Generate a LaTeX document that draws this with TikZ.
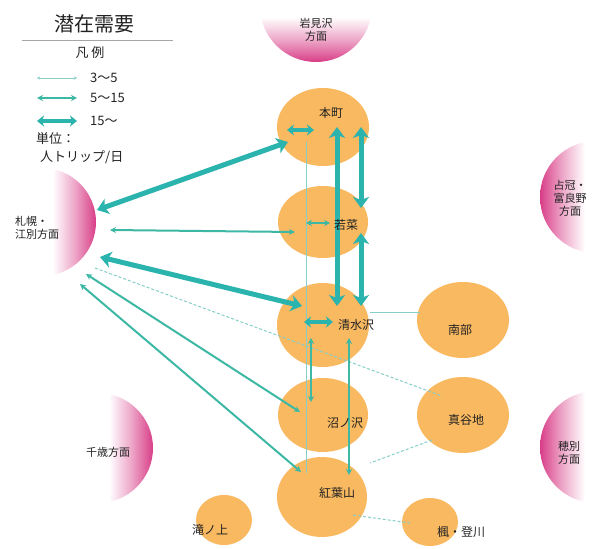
\documentclass[tikz,border=0pt]{standalone}
\usepackage{fontspec}
\setmainfont{Noto Sans CJK JP}
\usetikzlibrary{shapes.geometric,arrows.meta}
\definecolor{zone}{HTML}{F9B960}
\definecolor{regpink}{HTML}{D83C86}
\definecolor{tealA}{HTML}{2BB3AE}
\definecolor{tealB}{HTML}{3DB8A4}
\definecolor{tealC}{HTML}{86CEC8}
\definecolor{ink}{HTML}{222222}
\colorlet{pinkmid}{regpink!45!white}
\colorlet{pinkhi}{regpink!85!white}
\pgfdeclarehorizontalshading{fadeR}{100bp}{color(0bp)=(white); color(25bp)=(white); color(35bp)=(white); color(55bp)=(pinkmid); color(70bp)=(pinkhi); color(75bp)=(regpink); color(100bp)=(regpink)}
\pgfdeclarehorizontalshading{fadeL}{100bp}{color(0bp)=(regpink); color(25bp)=(regpink); color(30bp)=(pinkhi); color(45bp)=(pinkmid); color(65bp)=(white); color(75bp)=(white); color(100bp)=(white)}
\pgfdeclareverticalshading{fadeD}{100bp}{color(0bp)=(regpink); color(25bp)=(regpink); color(30bp)=(pinkhi); color(45bp)=(pinkmid); color(65bp)=(white); color(75bp)=(white); color(100bp)=(white)}
\tikzset{
  zonebox/.style={ellipse, fill=zone, draw=none, inner sep=0pt},
  lbl/.style={text=ink, font=\fontsize{12}{13}\selectfont, inner sep=0pt},
  leglbl/.style={text=ink, font=\fontsize{13}{14}\selectfont, inner sep=0pt},
  reglbl/.style={text=ink, font=\fontsize{11}{13}\selectfont, align=center, inner sep=0pt},
  bigarr/.style={draw=tealA, line width=5pt, {Stealth[length=11pt,width=16pt,inset=3pt]}-{Stealth[length=11pt,width=16pt,inset=3pt]}},
  smallbig/.style={draw=tealA, line width=4pt, {Stealth[length=7pt,width=11pt,inset=2pt]}-{Stealth[length=7pt,width=11pt,inset=2pt]}},
  midarr/.style={draw=tealB, line width=2pt, {Stealth[length=6pt,width=6pt]}-{Stealth[length=6pt,width=6pt]}},
  thinarr/.style={draw=tealC, line width=0.8pt},
  thindash/.style={draw=tealC, line width=1pt, dashed, dash pattern=on 3pt off 2pt},
}
\begin{document}
\begin{tikzpicture}[x=1pt,y=-1pt]
\useasboundingbox (0,0) rectangle (604,548);
\fill[white] (0,0) rectangle (604,548);

% region half disks (faded toward the flat side)
\begin{scope}
  \clip (316,6) circle[radius=56pt];
  \shade[shading=fadeD] (258,6) rectangle (374,62);
\end{scope}
\begin{scope}
  \clip (42,222) circle[radius=54pt];
  \shade[shading=fadeR] (42,166) rectangle (96,278);
\end{scope}
\begin{scope}
  \clip (596,197) circle[radius=56pt];
  \shade[shading=fadeL] (540,141) rectangle (596,253);
\end{scope}
\begin{scope}
  \clip (98,448) circle[radius=55pt];
  \shade[shading=fadeR] (98,393) rectangle (153,503);
\end{scope}
\begin{scope}
  \clip (596,447) circle[radius=56pt];
  \shade[shading=fadeL] (540,391) rectangle (596,503);
\end{scope}

\node[reglbl] (rTop) at (316,30) {岩見沢\\方面};
\node[reglbl, align=left, anchor=west] (rLeft) at (15,228) {札幌・\\江別方面};
\node[reglbl] (rRT) at (570,198) {占冠・\\富良野\\方面};
\node[reglbl] (rLB) at (108,452) {千歳方面};
\node[reglbl] (rRB) at (569,453) {穂別\\方面};

% zones
\node[zonebox, minimum width=92pt, minimum height=78pt] (hon) at (323,127) {};
\node[zonebox, minimum width=90pt, minimum height=72pt] (wak) at (323,222) {};
\node[zonebox, minimum width=92pt, minimum height=84pt] (shi) at (323,325) {};
\node[zonebox, minimum width=92pt, minimum height=76pt] (nan) at (463,320) {};
\node[zonebox, minimum width=90pt, minimum height=74pt] (num) at (323,415) {};
\node[zonebox, minimum width=92pt, minimum height=76pt] (mag) at (463,415) {};
\node[zonebox, minimum width=90pt, minimum height=80pt] (kou) at (322,497) {};
\node[zonebox, minimum width=56pt, minimum height=50pt] (tak) at (224,520) {};
\node[zonebox, minimum width=56pt, minimum height=48pt] (kae) at (430,522) {};

% endpoints
\coordinate (sapA) at (97,210);
\coordinate (honA) at (288,142);
\coordinate (sapB) at (100,257);
\coordinate (shiA) at (302,306);
\coordinate (honV1) at (337,127);
\coordinate (shiV1) at (337,306);
\coordinate (honV2) at (361,127);
\coordinate (wakV2a) at (361,208);
\coordinate (wakV2b) at (361,233);
\coordinate (shiV2) at (361,306);
\coordinate (honI1) at (287,130);
\coordinate (honI2) at (314,130);
\coordinate (shiI1) at (304,322);
\coordinate (shiI2) at (333,322);
\coordinate (sapC) at (110,230);
\coordinate (wakA) at (295,232);
\coordinate (wakI1) at (306,223);
\coordinate (wakI2) at (330,223);
\coordinate (sapD) at (86,274);
\coordinate (numA) at (300,412);
\coordinate (sapE) at (80,284);
\coordinate (kouA) at (301,472);
\coordinate (shiV3) at (311,338);
\coordinate (numV3) at (311,402);
\coordinate (shiV4) at (349,338);
\coordinate (kouV4) at (349,475);
\coordinate (honV5) at (306,142);
\coordinate (kouV5) at (306,473);
\coordinate (sapF) at (95,268);
\coordinate (magA) at (442,396);
\coordinate (shiB) at (370,312);
\coordinate (nanA) at (420,312);
\coordinate (magB) at (432,440);
\coordinate (kouB) at (370,463);
\coordinate (kouC) at (353,515);
\coordinate (kaeA) at (410,523);

% thin
\draw[thinarr] (honV5) -- (kouV5);
\draw[thinarr] (shiB) -- (nanA);
\draw[thindash] (sapF) -- (magA);
\draw[thindash] (magB) -- (kouB);
\draw[thindash] (kouC) -- (kaeA);

% medium
\draw[midarr] (sapC) -- (wakA);
\draw[midarr] (sapD) -- (numA);
\draw[midarr] (sapE) -- (kouA);
\draw[midarr] (shiV3) -- (numV3);
\draw[midarr] (shiV4) -- (kouV4);
\draw[midarr, line width=1.5pt] (wakI1) -- (wakI2);

% thick
\draw[bigarr] (sapA) -- (honA);
\draw[bigarr] (sapB) -- (shiA);
\draw[bigarr] (honV1) -- (shiV1);
\draw[bigarr] (honV2) -- (wakV2a);
\draw[bigarr] (wakV2b) -- (shiV2);
\draw[smallbig] (honI1) -- (honI2);
\draw[smallbig] (shiI1) -- (shiI2);

% zone labels
\node[lbl] (honL) at (331,113) {本町};
\node[lbl] (wakL) at (346,225) {若菜};
\node[lbl] (shiL) at (356,325) {清水沢};
\node[lbl] (nanL) at (460,330) {南部};
\node[lbl] (numL) at (345,423) {沼ノ沢};
\node[lbl] (magL) at (466,420) {真谷地};
\node[lbl] (kouL) at (337,493) {紅葉山};
\node[lbl] (takL) at (210,530) {滝ノ上};
\node[lbl] (kaeL) at (461,532) {楓・登川};

% legend
\node[text=ink, font=\fontsize{20}{22}\selectfont, inner sep=0pt] (title) at (94,24) {潜在需要};
\coordinate (ruleA) at (22,40);
\coordinate (ruleB) at (173,40);
\draw[gray!70, line width=0.8pt] (ruleA) -- (ruleB);
\node[leglbl] (lgHead) at (90,53) {凡\ 例};
\coordinate (lg1a) at (37,78);
\coordinate (lg1b) at (77,78);
\coordinate (lg2a) at (37,98);
\coordinate (lg2b) at (77,98);
\coordinate (lg3a) at (37,121);
\coordinate (lg3b) at (77,121);
\draw[thinarr, {Stealth[length=3pt,width=3pt]}-{Stealth[length=3pt,width=3pt]}] (lg1a) -- (lg1b);
\draw[midarr] (lg2a) -- (lg2b);
\draw[smallbig, line width=4.5pt] (lg3a) -- (lg3b);
\node[leglbl, anchor=west] (lg1t) at (90,78) {3～5};
\node[leglbl, anchor=west] (lg2t) at (90,98) {5～15};
\node[leglbl, anchor=west] (lg3t) at (90,121) {15～};
\node[leglbl, anchor=west] (unitA) at (36,139) {単位：};
\node[leglbl, anchor=west] (unitB) at (40,157) {人トリップ/日};
\end{tikzpicture}
\end{document}
